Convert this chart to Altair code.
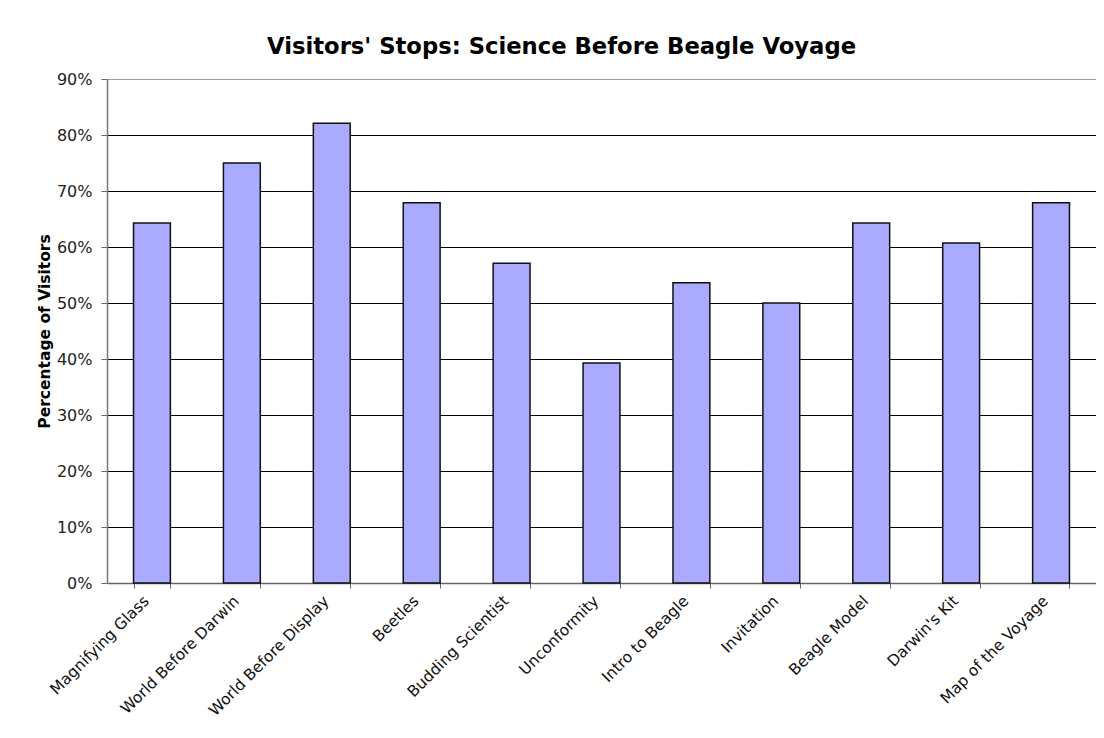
import altair as alt
import pandas as pd

stops = ["Magnifying Glass", "World Before Darwin", "World Before Display", "Beetles",
         "Budding Scientist", "Unconformity", "Intro to Beagle", "Invitation",
         "Beagle Model", "Darwin's Kit", "Map of the Voyage"]
share = [0.643, 0.750, 0.821, 0.679, 0.571, 0.393, 0.536, 0.500, 0.643, 0.607, 0.679]
y_ticks = [0, 0.1, 0.2, 0.3, 0.4, 0.5, 0.6, 0.7, 0.8, 0.9]

df = pd.DataFrame({"stop": stops, "share": share})

FONT = "DejaVu Sans"

chart = alt.Chart(df).mark_bar(
    fill="#AAAAFF", stroke="#111111", strokeWidth=1.5
).encode(
    x=alt.X("stop:N", sort=stops, title=None,
            scale=alt.Scale(paddingInner=0.59, paddingOuter=0.295),
            axis=alt.Axis(labelAngle=-45, labelAlign="right", labelBaseline="middle",
                          labelFontSize=15.5, labelColor="#111111", labelFont=FONT,
                          labelPadding=10, labelOffset=-6, tickBand="extent", tickSize=5,
                          tickColor="#666666", domainColor="#666666", domainWidth=1.5,
                          grid=False)),
    y=alt.Y("share:Q", title="Percentage of Visitors",
            scale=alt.Scale(domain=[0, 0.9], nice=False),
            axis=alt.Axis(values=y_ticks, format=".0%", labelFontSize=16,
                          labelColor="#222222", labelFont=FONT, labelPadding=9,
                          tickSize=6, tickColor="#666666", domainColor="#777777",
                          domainWidth=1.5, grid=True,
                          gridColor={"condition": {"test": "datum.value >= 0.9", "value": "#999999"},
                                     "value": "#000000"},
                          gridWidth=1, gridOpacity=1,
                          titleFont=FONT, titleFontSize=15.5, titleFontWeight="bold",
                          titleColor="#000000", titleAngle=-90, titleX=-63, titleY=252,
                          titleAlign="center", titleBaseline="middle"))
).properties(
    width=989, height=504,
    title=alt.TitleParams("Visitors' Stops: Science Before Beagle Voyage",
                          font=FONT, fontSize=22.7, fontWeight="bold", color="#000000",
                          anchor="middle", dx=-40, offset=12),
    autosize=alt.AutoSizeParams(type="none"),
    padding={"left": 99, "top": 71, "right": 0, "bottom": 140}
).configure_view(stroke=None).configure(background="white")

chart.save("out.html", embed_options={"renderer": "svg", "actions": False})
